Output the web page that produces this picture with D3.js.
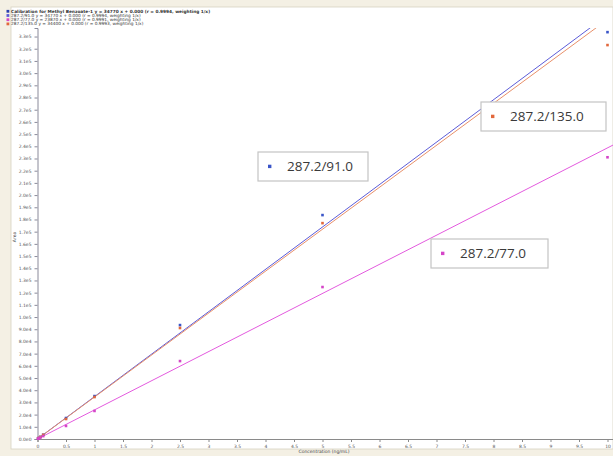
<!DOCTYPE html>
<html>
<head>
<meta charset="utf-8">
<script src="https://cdn.jsdelivr.net/npm/d3@7/dist/d3.min.js"></script>
<style>
  html, body { margin: 0; padding: 0; background: #ffffff; }
  svg { display: block; }
</style>
</head>
<body>
<svg id="chart" width="613" height="456"></svg>
<script>
// Calibration levels (ng/mL)
const concentrations = [0.01, 0.025, 0.05, 0.1, 0.5, 1, 2.5, 5, 10];

// Peak areas for each transition
const area91  = [350, 870, 1720, 3480, 17200, 35200, 93400, 183600, 333600];
const area135 = [340, 860, 1710, 3420, 16400, 34400, 91000, 177000, 323000];
const area77  = [240, 600, 1190, 2380, 10700, 23000, 63900, 124600, 231000];

// Transition names, fit slopes and intercepts (1/x weighting)
const transitions = ["287.2/91.0", "287.2/135.0", "287.2/77.0"];
const slopes      = [34770, 34400, 23870];
const intercepts  = [0, 0, 0];
const seriesColors = ["#3a55c8", "#e2683c", "#d545c8"];
const lineColors   = ["#5c5cd8", "#e8906a", "#e35ade"];

// Axis ticks
const xTicks = d3.range(0, 10.01, 0.5);
const yTicks = d3.range(0, 330001, 10000);

// Legend rows of the header panel
const legendRows = [
  "Calibration for Methyl Benzoate-1  y = 34770 x + 0.000 (r = 0.9994, weighting 1/x)",
  "287.2/91.0  y = 34770 x + 0.000 (r = 0.9994, weighting 1/x)",
  "287.2/77.0  y = 23870 x + 0.000 (r = 0.9991, weighting 1/x)",
  "287.2/135.0  y = 34400 x + 0.000 (r = 0.9993, weighting 1/x)"
];
const legendColors = ["#2a3fb0", "#5c5cd8", "#d545c8", "#e2683c"];

const svg = d3.select("#chart");
const W = 613, H = 456;

// window background and panel
svg.append("rect").attr("width", W).attr("height", H).attr("fill", "#f4f0e4");
svg.append("rect").attr("x", 11).attr("y", 7).attr("width", W - 11).attr("height", 442)
  .attr("fill", "#ffffff").attr("stroke", "#d8d2c0").attr("stroke-width", 0.8);

const x = d3.scaleLinear().domain([0, 10.1]).range([37.5, 613.2]);
const y = d3.scaleLinear().domain([0, 337000]).range([439, 28]);

// header legend
const lg = svg.append("g").attr("font-family", "DejaVu Sans, sans-serif").attr("font-size", 4.3);
legendRows.forEach((t, i) => {
  const yy = 11.5 + i * 4.2;
  lg.append("rect").attr("x", 6.5).attr("y", yy - 1.6).attr("width", 2.8).attr("height", 2.8)
    .attr("fill", legendColors[i]);
  lg.append("text").attr("x", 11).attr("y", yy + 1.3).attr("fill", "#333")
    .attr("font-weight", i === 0 ? "bold" : "normal").text(t);
});

// axes
const xAxis = d3.axisBottom(x).tickValues(xTicks).tickSize(3).tickFormat(d3.format("~g"));
const gx = svg.append("g").attr("transform", "translate(0,439)").call(xAxis);
gx.select(".domain").attr("stroke", "#8a8a8a");
gx.selectAll(".tick line").attr("stroke", "#8a8a8a");
gx.selectAll("text").attr("font-size", 4.5).attr("fill", "#555").attr("font-family", "DejaVu Sans, sans-serif");

const fmtE = v => v === 0 ? "0.0e0" : d3.format(".1e")(v).replace("+", "");
const yAxis = d3.axisLeft(y).tickValues(yTicks).tickSize(3).tickFormat(fmtE);
const gy = svg.append("g").attr("transform", "translate(37.5,0)").call(yAxis);
gy.select(".domain").attr("stroke", "#8a8a9a");
gy.selectAll(".tick line").attr("stroke", "#8a8a9a");
gy.selectAll("text").attr("font-size", 4.5).attr("fill", "#555").attr("font-family", "DejaVu Sans, sans-serif");

// axis titles
svg.append("text").attr("x", 324).attr("y", 453).attr("text-anchor", "middle")
  .attr("font-size", 4.5).attr("fill", "#444").attr("font-family", "DejaVu Sans, sans-serif")
  .text("Concentration (ng/mL)");
svg.append("text").attr("transform", "translate(16,237) rotate(-90)").attr("text-anchor", "middle")
  .attr("font-size", 4.5).attr("fill", "#444").attr("font-family", "DejaVu Sans, sans-serif")
  .text("Area");

// clip region for fit lines
svg.append("clipPath").attr("id", "plotClip").append("rect")
  .attr("x", 37.5).attr("y", 28).attr("width", W - 37.5).attr("height", 411);

const plot = svg.append("g").attr("clip-path", "url(#plotClip)");
const series = [area91, area135, area77];

// fitted calibration lines
const xEnd = x.domain()[1];
slopes.forEach((m, i) => {
  const line = d3.line().x(d => x(d)).y(d => y(m * d + intercepts[i]));
  plot.append("path").datum([0, xEnd]).attr("d", line)
    .attr("fill", "none").attr("stroke", lineColors[i]).attr("stroke-width", 1);
});

// calibration points
series.forEach((vals, i) => {
  svg.append("g").selectAll("rect").data(concentrations.map((c, k) => [c, vals[k]]))
    .join("rect")
    .attr("x", d => x(d[0]) - 1.3).attr("y", d => y(d[1]) - 1.3)
    .attr("width", 2.6).attr("height", 2.6)
    .attr("fill", seriesColors[i]);
});

// transition labels
const boxes = [
  { i: 0, x: 258, y: 152, w: 110, h: 29 },
  { i: 1, x: 481, y: 102, w: 125, h: 29 },
  { i: 2, x: 431, y: 239, w: 117, h: 29 }
];
boxes.forEach(b => {
  const g = svg.append("g");
  g.append("rect").attr("x", b.x).attr("y", b.y).attr("width", b.w).attr("height", b.h)
    .attr("fill", "#ffffff").attr("stroke", "#c4c4c4").attr("stroke-width", 1.2);
  g.append("rect").attr("x", b.x + 10).attr("y", b.y + b.h / 2 - 1.8).attr("width", 3.4).attr("height", 3.4)
    .attr("fill", seriesColors[b.i]);
  g.append("text").attr("x", b.x + 29).attr("y", b.y + b.h / 2 + 4.6)
    .attr("font-family", "Open Sans, sans-serif").attr("font-size", 13.5)
    .attr("fill", "#3a3a3a").text(transitions[b.i]);
});
</script>
</body>
</html>
